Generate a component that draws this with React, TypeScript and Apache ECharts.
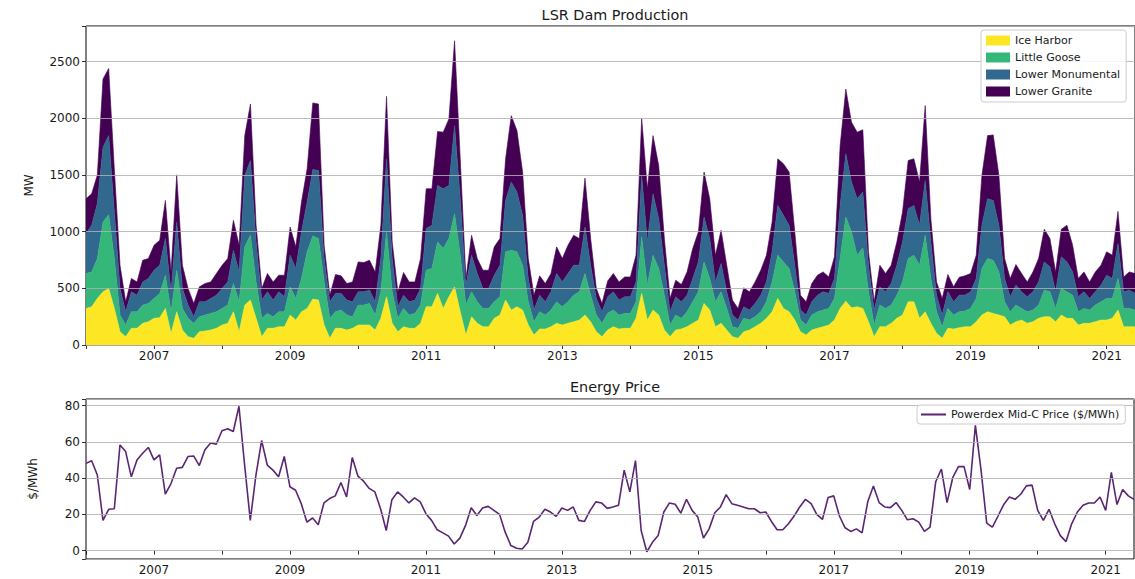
import React, { useEffect, useRef } from "react";
import * as echarts from "echarts";

const START_YEAR = 2006;

const iceHarbor = [
  323, 337, 411, 469, 499, 323, 117, 73, 147, 147,
  191, 205, 235, 241, 323, 103, 293, 132, 73, 59,
  117, 123, 132, 147, 176, 191, 293, 117, 352, 396,
  235, 73, 147, 147, 161, 161, 264, 220, 293, 323,
  405, 396, 176, 59, 147, 147, 132, 147, 176, 176,
  176, 132, 235, 425, 191, 117, 161, 147, 147, 191,
  337, 337, 455, 323, 425, 513, 293, 88, 249, 191,
  161, 161, 235, 264, 396, 308, 337, 308, 176, 88,
  141, 141, 161, 191, 176, 191, 205, 220, 264, 205,
  117, 73, 132, 161, 141, 147, 147, 235, 455, 220,
  308, 264, 132, 73, 132, 141, 161, 191, 220, 367,
  308, 161, 191, 132, 73, 59, 117, 132, 161, 191,
  235, 293, 411, 323, 293, 220, 117, 88, 132, 147,
  161, 176, 220, 323, 387, 328, 337, 323, 205, 73,
  161, 161, 191, 235, 264, 381, 381, 235, 293, 191,
  103, 59, 147, 141, 152, 161, 161, 205, 264, 293,
  279, 264, 249, 176, 205, 220, 191, 205, 235, 249,
  249, 205, 264, 235, 235, 176, 191, 191, 205, 220,
  220, 235, 308, 161, 161, 161,
];

const littleGoose = [
  308, 308, 352, 616, 651, 440, 147, 103, 146, 146,
  161, 162, 176, 214, 293, 190, 367, 191, 162, 132,
  132, 141, 147, 146, 147, 161, 250, 264, 514, 572,
  322, 162, 132, 102, 132, 132, 249, 191, 294, 499,
  557, 543, 381, 176, 146, 161, 132, 102, 176, 176,
  191, 132, 234, 573, 278, 118, 162, 117, 132, 161,
  323, 338, 455, 528, 514, 646, 499, 264, 220, 190,
  162, 162, 146, 161, 426, 528, 485, 396, 205, 117,
  152, 123, 147, 190, 161, 190, 235, 249, 367, 235,
  147, 118, 148, 147, 123, 132, 132, 146, 499, 308,
  484, 411, 308, 103, 132, 94, 132, 190, 249, 366,
  279, 220, 278, 191, 88, 88, 118, 88, 88, 102,
  146, 264, 381, 410, 382, 249, 103, 88, 132, 146,
  147, 147, 191, 440, 743, 670, 455, 535, 264, 103,
  191, 162, 161, 205, 293, 382, 411, 469, 675, 396,
  190, 102, 176, 123, 141, 138, 162, 206, 411, 470,
  469, 381, 132, 117, 147, 103, 102, 103, 117, 235,
  220, 118, 235, 234, 205, 117, 132, 117, 147, 161,
  191, 176, 279, 162, 162, 147,
];

const lowerMonumental = [
  352, 411, 487, 661, 698, 411, 235, 117, 176, 147,
  205, 220, 249, 249, 323, 176, 425, 176, 117, 58,
  132, 117, 132, 147, 176, 205, 293, 264, 630, 660,
  353, 161, 190, 147, 176, 132, 279, 264, 411, 440,
  587, 601, 206, 146, 162, 147, 132, 132, 117, 117,
  117, 117, 294, 645, 294, 102, 117, 117, 117, 147,
  367, 381, 498, 528, 469, 777, 499, 176, 323, 250,
  176, 176, 235, 279, 454, 602, 528, 440, 206, 103,
  147, 117, 161, 250, 220, 250, 264, 235, 410, 264,
  147, 102, 145, 161, 132, 146, 146, 176, 542, 382,
  543, 440, 264, 117, 161, 146, 147, 206, 264, 397,
  352, 176, 250, 146, 103, 73, 102, 88, 118, 147,
  176, 265, 440, 411, 381, 235, 88, 88, 117, 147,
  161, 132, 176, 469, 557, 440, 499, 492, 235, 132,
  161, 146, 191, 264, 353, 440, 440, 352, 484, 323,
  147, 103, 146, 117, 147, 141, 146, 176, 381, 528,
  528, 411, 206, 132, 176, 146, 132, 161, 205, 249,
  221, 146, 279, 264, 205, 132, 146, 103, 117, 147,
  205, 176, 308, 146, 161, 147,
];

const lowerGranite = [
  308, 279, 250, 601, 593, 376, 205, 88, 118, 117,
  191, 176, 220, 220, 337, 176, 417, 205, 147, 118,
  132, 162, 146, 191, 205, 206, 264, 235, 352, 499,
  146, 103, 162, 161, 147, 191, 249, 191, 264, 293,
  587, 587, 117, 59, 167, 155, 147, 176, 264, 259,
  264, 264, 293, 551, 147, 132, 200, 176, 161, 264,
  352, 323, 476, 499, 587, 749, 352, 59, 176, 132,
  161, 161, 250, 235, 367, 586, 542, 382, 176, 132,
  170, 162, 162, 235, 206, 249, 264, 235, 432, 235,
  88, 74, 140, 162, 161, 176, 176, 235, 505, 469,
  513, 469, 235, 118, 147, 153, 205, 264, 265, 396,
  352, 235, 293, 235, 132, 103, 168, 161, 190, 220,
  235, 263, 411, 455, 470, 294, 132, 117, 162, 176,
  176, 146, 191, 528, 572, 528, 587, 550, 118, 73,
  191, 162, 161, 206, 264, 425, 411, 382, 661, 205,
  117, 147, 153, 132, 158, 170, 162, 205, 440, 557,
  578, 440, 176, 162, 182, 162, 132, 176, 206, 288,
  249, 176, 243, 323, 235, 162, 176, 146, 176, 176,
  206, 205, 284, 132, 161, 176,
];

const midCPrice = [
  48.1, 49.6, 41.7, 16.7, 22.8, 23.1, 58.3, 54.6, 40.7, 50,
  53.7, 56.9, 50, 52.8, 31.1, 37, 45.4, 45.9, 51.9, 52.2,
  46.9, 55.6, 59.3, 58.7, 66.1, 67.2, 65.7, 79.6, 47.2, 16.7,
  41.7, 60.7, 47.2, 44.4, 40.7, 51.9, 35.2, 33.3, 25.9, 15.7,
  18, 14.3, 26.3, 28.7, 30.2, 37.6, 29.6, 51.3, 41.1, 38.3,
  34.3, 32.4, 23.1, 11.1, 28.1, 32.4, 29.6, 26.3, 29.1, 26.9,
  20.4, 16.7, 11.5, 9.8, 8, 3.7, 6.9, 13.9, 23.7, 19.4,
  23.5, 24.4, 22.2, 20, 10.2, 2.8, 1.3, 0.9, 4.6, 16.1,
  18.5, 22.8, 21.3, 18.9, 23.5, 22.2, 24.1, 16.7, 16.1, 22.2,
  26.9, 26.3, 23.3, 24.1, 25, 44.4, 32.4, 49.6, 11.1, -0.6,
  4.6, 8.3, 21.3, 26.3, 25.6, 20.7, 28.3, 22.2, 18.5, 7,
  12, 20.9, 24.1, 30.9, 25.9, 25, 24.1, 23.1, 23.1, 20.9,
  21.3, 16.1, 11.5, 11.5, 14.8, 19.1, 24.1, 28.3, 25.9, 20,
  17.2, 29.3, 30.2, 19.1, 12.6, 10.6, 12, 9.8, 26.9, 35.7,
  26.5, 24.1, 23.7, 26.5, 22.2, 17, 17.6, 15.7, 10.6, 13,
  38, 45, 26.5, 40.2, 46.3, 46.3, 33.7, 69.1, 44.4, 15.2,
  13, 19.1, 25.4, 29.6, 28.3, 31.1, 35.7, 36.1, 22.2, 16.7,
  22.8, 14.8, 8.3, 5, 14.8, 21.3, 25, 26.3, 26.3, 29.6,
  22.2, 43.1, 25.4, 33.7, 30.2, 28.3,
];

const damNames = ["Ice Harbor", "Little Goose", "Lower Monumental", "Lower Granite"];
const damValues = [iceHarbor, littleGoose, lowerMonumental, lowerGranite];
const damColors = ["#fde725", "#35b779", "#31688e", "#440154"];
const priceName = "Powerdex Mid-C Price ($/MWh)";
const priceColor = "#5a2673";

const FONT = "DejaVu Sans";
const TXT = "#1a1a1a";

// month categories: "2006-01" ... "2021-06"
const months = iceHarbor.map((_, i) => {
  const y = START_YEAR + Math.floor(i / 12);
  const m = (i % 12) + 1;
  return `${y}-${m < 10 ? "0" + m : m}`;
});

export default function App() {
  const ref = useRef<HTMLDivElement>(null);

  useEffect(() => {
    if (!ref.current) return;
    const chart = echarts.init(ref.current, null, { renderer: "svg" });

    const xAxisBase = (gridIndex: number) => ({
      type: "category",
      gridIndex,
      data: months,
      boundaryGap: false,
      axisLine: { show: false },
      axisTick: {
        show: true,
        length: 4,
        interval: (idx: number) => idx % 12 === 0,
        lineStyle: { color: "#000", width: 0.8 },
      },
      axisLabel: {
        interval: (idx: number) => idx % 24 === 12,
        formatter: (v: string) => v.slice(0, 4),
        fontFamily: FONT,
        fontSize: 12,
        color: TXT,
        margin: 5,
      },
      splitLine: { show: false },
    });

    const option: any = {
      animation: false,
      backgroundColor: "#ffffff",
      title: [
        {
          text: "LSR Dam Production",
          left: 610,
          top: 3,
          textAlign: "center",
          textStyle: { fontFamily: FONT, fontSize: 14.4, fontWeight: "normal", color: TXT },
        },
        {
          text: "Energy Price",
          left: 610,
          top: 375,
          textAlign: "center",
          textStyle: { fontFamily: FONT, fontSize: 14.4, fontWeight: "normal", color: TXT },
        },
      ],
      legend: [
        {
          data: damNames,
          orient: "vertical",
          left: 981,
          top: 30,
          icon: "rect",
          itemWidth: 24,
          itemHeight: 10,
          itemGap: 4,
          padding: [4, 6, 4, 5],
          backgroundColor: "rgba(255,255,255,0.85)",
          borderColor: "#cccccc",
          borderWidth: 1,
          borderRadius: 3,
          textStyle: { fontFamily: FONT, fontSize: 11, color: TXT, lineHeight: 13 },
          z: 20,
        },
        {
          data: [priceName],
          left: 917,
          top: 405,
          icon: "rect",
          itemWidth: 25,
          itemHeight: 2,
          padding: [4, 6, 4, 4],
          backgroundColor: "rgba(255,255,255,0.85)",
          borderColor: "#cccccc",
          borderWidth: 1,
          borderRadius: 3,
          textStyle: { fontFamily: FONT, fontSize: 11, color: TXT },
          z: 20,
        },
      ],
      grid: [
        { left: 86, top: 26, right: 0, height: 319, show: true, borderColor: "#000", borderWidth: 1, backgroundColor: "transparent" },
        { left: 86, top: 399, right: 1, height: 160, show: true, borderColor: "#000", borderWidth: 1, backgroundColor: "transparent" },
      ],
      xAxis: [xAxisBase(0), xAxisBase(1)],
      yAxis: [
        {
          type: "value",
          gridIndex: 0,
          min: 0,
          max: 2815,
          interval: 500,
          z: 10,
          name: "MW",
          nameLocation: "middle",
          nameGap: 51,
          nameTextStyle: { fontFamily: FONT, fontSize: 12, color: TXT },
          axisLine: { show: false },
          axisTick: { show: true, length: 4, lineStyle: { color: "#000", width: 0.8 } },
          axisLabel: {
            fontFamily: FONT,
            fontSize: 12,
            color: TXT,
            margin: 6,
            formatter: (v: number) => (v % 500 === 0 ? String(v) : ""),
          },
          splitLine: { show: true, lineStyle: { color: "rgba(176,176,176,0.85)", width: 1 } },
        },
        {
          type: "value",
          gridIndex: 1,
          min: -4.6,
          max: 83.6,
          minInterval: 20,
          maxInterval: 20,
          z: 10,
          name: "$/MWh",
          nameLocation: "middle",
          nameGap: 47,
          nameTextStyle: { fontFamily: FONT, fontSize: 12, color: TXT },
          axisLine: { show: false },
          axisTick: { show: true, length: 4, lineStyle: { color: "#000", width: 0.8 } },
          axisLabel: {
            fontFamily: FONT,
            fontSize: 12,
            color: TXT,
            margin: 6,
            formatter: (v: number) => (Math.abs(v % 20) < 1e-6 ? String(v) : ""),
          },
          splitLine: { show: true, lineStyle: { color: "rgba(176,176,176,0.85)", width: 1 } },
        },
      ],
      series: [
        ...damNames.map((name, k) => ({
          name,
          type: "line",
          xAxisIndex: 0,
          yAxisIndex: 0,
          stack: "dams",
          showSymbol: false,
          symbol: "none",
          color: damColors[k],
          lineStyle: { width: 0.6, color: damColors[k] },
          areaStyle: { color: damColors[k], opacity: 1 },
          data: damValues[k],
        })),
        {
          name: priceName,
          type: "line",
          xAxisIndex: 1,
          yAxisIndex: 1,
          showSymbol: false,
          symbol: "none",
          color: priceColor,
          lineStyle: { width: 1.6, color: priceColor },
          data: midCPrice,
        },
      ],
    };

    chart.setOption(option);
    return () => chart.dispose();
  }, []);

  return (
    <div
      ref={ref}
      style={{ position: "fixed", left: 0, top: 0, width: 1135, height: 579, background: "#fff" }}
    />
  );
}
